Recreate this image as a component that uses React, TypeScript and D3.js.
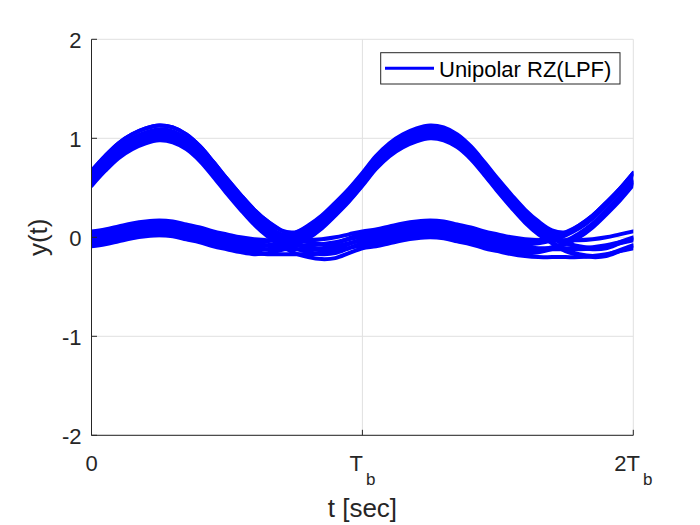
import React from "react";
import * as d3 from "d3";

// time samples within one bit slot (in units of Tb)
const SLOT_T = [0, 0.05, 0.1, 0.15, 0.2, 0.25, 0.3, 0.35, 0.4, 0.45, 0.5, 0.55, 0.6, 0.65, 0.7, 0.75, 0.8, 0.85, 0.9, 0.95, 1.0];

// slot shapes: current bit -> next bit
const SLOT_11 = [0.6, 0.75, 0.88, 0.97, 1.03, 1.06, 1.04, 0.97, 0.85, 0.69, 0.52, 0.36, 0.21, 0.09, 0.0, -0.02, 0.05, 0.15, 0.28, 0.42, 0.58];
const SLOT_10 = [0.6, 0.75, 0.88, 0.97, 1.03, 1.06, 1.04, 0.97, 0.85, 0.69, 0.52, 0.36, 0.21, 0.09, 0.0, -0.08, -0.12, -0.14, -0.13, -0.08, -0.03];
const SLOT_01 = [-0.03, -0.01, 0.02, 0.05, 0.07, 0.08, 0.07, 0.04, 0.01, -0.03, -0.06, -0.09, -0.11, -0.1, -0.07, -0.02, 0.05, 0.15, 0.28, 0.42, 0.58];
const SLOT_00 = [-0.03, -0.01, 0.02, 0.05, 0.07, 0.08, 0.07, 0.04, 0.01, -0.03, -0.06, -0.09, -0.11, -0.12, -0.12, -0.12, -0.12, -0.11, -0.09, -0.06, -0.03];

// bit patterns of each trace in the 2Tb window and its noise offset
const TRACE_BITS = [
  [1, 1, 1], [1, 1, 1], [1, 1, 0], [1, 1, 0],
  [1, 0, 1], [1, 0, 1], [1, 0, 0], [1, 0, 0],
  [0, 1, 1], [0, 1, 1], [0, 1, 0], [0, 1, 0],
  [0, 0, 1], [0, 0, 1], [0, 0, 0], [0, 0, 0],
];
const TRACE_OFFSETS = [0.07, -0.01, 0.03, -0.05, 0.07, -0.03, 0.01, -0.08, 0.06, -0.02, 0.02, -0.06, 0.04, -0.05, 0.09, 0.0];

const Y_TICKS = [-2, -1, 0, 1, 2];
const X_TICKS = [0, 1, 2];
const X_TICK_MAIN = ["0", "T", "2T"];
const X_TICK_SUB = ["", "b", "b"];

const SERIES_NAME = "Unipolar RZ(LPF)";
const X_LABEL = "t [sec]";
const Y_LABEL = "y(t)";

const W = 700;
const H = 525;
const LEFT = 91.5;
const RIGHT = 633.3;
const TOP = 39.3;
const BOTTOM = 435.3;
const BLUE = "#0000ff";
const AXIS = "#262626";
const GRID = "#e0e0e0";
const FONT = "'Liberation Sans', Arial, Helvetica, sans-serif";

function slotFor(a: number, b: number): number[] {
  if (a === 1 && b === 1) return SLOT_11;
  if (a === 1 && b === 0) return SLOT_10;
  if (a === 0 && b === 1) return SLOT_01;
  return SLOT_00;
}

export default function App() {
  const x = d3.scaleLinear().domain([0, 2]).range([LEFT, RIGHT]);
  const y = d3.scaleLinear().domain([-2, 2]).range([BOTTOM, TOP]);

  const traces = TRACE_BITS.map((bits, k) => {
    const s1 = slotFor(bits[0], bits[1]);
    const s2 = slotFor(bits[1], bits[2]);
    const pts: [number, number][] = [];
    SLOT_T.forEach((t, i) => pts.push([t, s1[i] + TRACE_OFFSETS[k]]));
    SLOT_T.forEach((t, i) => {
      if (i > 0) pts.push([1 + t, s2[i] + TRACE_OFFSETS[k]]);
    });
    return pts;
  });

  const line = d3
    .line<[number, number]>()
    .x((d) => x(d[0]))
    .y((d) => y(d[1]))
    .curve(d3.curveCatmullRom.alpha(0.5));

  const tickLen = 5.5;

  return (
    <svg
      width={W}
      height={H}
      viewBox={`0 0 ${W} ${H}`}
      style={{ position: "absolute", left: 0, top: 0, background: "#fff" }}
      fontFamily={FONT}
    >
      <rect x={0} y={0} width={W} height={H} fill="#fff" />
      <defs>
        <clipPath id="plotclip">
          <rect x={LEFT} y={TOP} width={RIGHT - LEFT} height={BOTTOM - TOP} />
        </clipPath>
      </defs>

      {/* grid */}
      <g stroke={GRID} strokeWidth={1} fill="none">
        {X_TICKS.map((t) => (
          <line key={"gx" + t} x1={x(t)} x2={x(t)} y1={TOP} y2={BOTTOM} />
        ))}
        {Y_TICKS.map((t) => (
          <line key={"gy" + t} x1={LEFT} x2={RIGHT} y1={y(t)} y2={y(t)} />
        ))}
      </g>

      {/* traces */}
      <g clipPath="url(#plotclip)" fill="none" stroke={BLUE} strokeWidth={4} strokeLinejoin="round" strokeLinecap="round">
        {traces.map((pts, i) => (
          <path key={i} d={line(pts) || ""} />
        ))}
      </g>

      {/* axes */}
      <g stroke={AXIS} strokeWidth={1} fill="none">
        <line x1={LEFT} x2={LEFT} y1={TOP} y2={BOTTOM} />
        <line x1={LEFT} x2={RIGHT} y1={BOTTOM} y2={BOTTOM} />
        {Y_TICKS.map((t) => (
          <line key={"ty" + t} x1={LEFT} x2={LEFT + tickLen} y1={y(t)} y2={y(t)} />
        ))}
        {X_TICKS.map((t) => (
          <line key={"tx" + t} x1={x(t)} x2={x(t)} y1={BOTTOM} y2={BOTTOM - tickLen} />
        ))}
      </g>

      {/* y tick labels */}
      <g fill={AXIS} fontSize={22} textAnchor="end">
        {Y_TICKS.map((t) => (
          <text key={"ly" + t} x={LEFT - 10} y={y(t) + 9}>
            {String(t)}
          </text>
        ))}
      </g>

      {/* x tick labels */}
      <g fill={AXIS} fontSize={22} textAnchor="middle">
        {X_TICKS.map((t, i) => (
          <text key={"lx" + t} x={x(t)} y={471}>
            {X_TICK_MAIN[i]}
            {X_TICK_SUB[i] ? (
              <tspan fontSize={17} dy={14} dx={3}>
                {X_TICK_SUB[i]}
              </tspan>
            ) : null}
          </text>
        ))}
      </g>

      {/* axis labels */}
      <text x={x(1)} y={517} textAnchor="middle" fontSize={26} fill={AXIS}>
        {X_LABEL}
      </text>
      <text
        transform={`translate(47, ${y(0)}) rotate(-90)`}
        textAnchor="middle"
        fontSize={26}
        fill={AXIS}
      >
        {Y_LABEL}
      </text>

      {/* legend */}
      <g>
        <rect x={380.7} y={52.7} width={239.3} height={31.3} fill="#fff" stroke={AXIS} strokeWidth={1} />
        <line x1={385} x2={434} y1={68.3} y2={68.3} stroke={BLUE} strokeWidth={3} />
        <text x={439} y={76.5} fontSize={22} fill="#000">
          {SERIES_NAME}
        </text>
      </g>
    </svg>
  );
}
